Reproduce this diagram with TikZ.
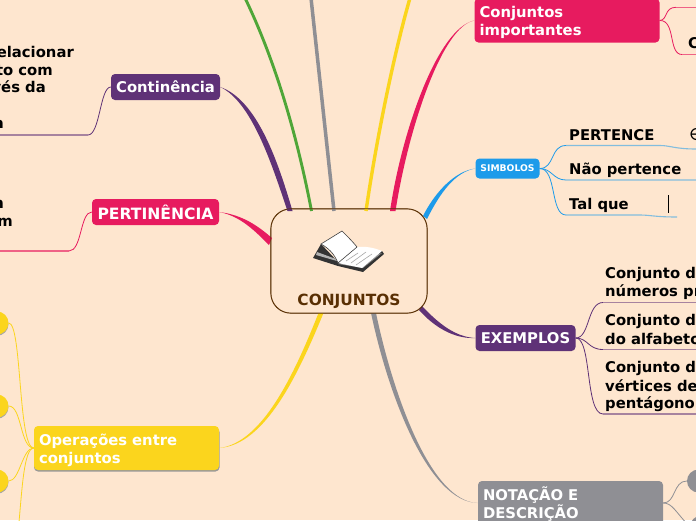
\documentclass[tikz,border=0pt]{standalone}
\usepackage{fontspec}
\setmainfont{DejaVu Sans}
\definecolor{bg}{HTML}{FEE6CF}
\definecolor{cpurple}{HTML}{5F3277}
\definecolor{cpink}{HTML}{E71B5F}
\definecolor{cyellow}{HTML}{FBD51D}
\definecolor{cgreen}{HTML}{4FA638}
\definecolor{cgray}{HTML}{8F8F94}
\definecolor{cblue}{HTML}{1D9BEA}
\definecolor{cbrown}{HTML}{592F03}
\newcommand{\bigbold}{\bfseries\fontsize{14.8}{18}\selectfont}
\newcommand{\firstline}{\rule{0pt}{15.5pt}}
\tikzset{
 mainbox/.style={rounded corners=4pt,inner sep=0pt,text=white,font=\bigbold,align=center},
 widebox/.style={mainbox,minimum width=185pt,minimum height=44pt,text width=175pt,align=left},
 leaf/.style={anchor=base west,inner sep=0pt,font=\bigbold,text=black},
 leafr/.style={anchor=base east,inner sep=0pt,font=\bigbold,text=black},
 thinline/.style={line width=.8pt},
 paleline/.style={line width=1.1pt},
 roundnode/.style={circle,inner sep=0pt,minimum size=23pt},
}
\begin{document}
\begin{tikzpicture}[x=1pt,y=-1pt]
\useasboundingbox (0,0) rectangle (696,520);
\clip (0,0) rectangle (696,520);
\fill[bg] (0,0) rectangle (696,520);
% main topics
\node[mainbox,fill=cpurple,minimum width=109pt,minimum height=26pt] (cont) at (165.5,87) {Continência};
\node[mainbox,fill=cpink,minimum width=127pt,minimum height=26pt,font=\bfseries\fontsize{15.6}{18}\selectfont] (pert) at (155.5,212) {PERTINÊNCIA};
\node[widebox,fill=cpink] (imp) at (567,20.5) {\firstline Conjuntos\\importantes};
\node[mainbox,fill=cblue,minimum width=64pt,minimum height=20pt,font=\bfseries\fontsize{9.2}{10}\selectfont] (simb) at (507.5,168.5) {SIMBOLOS};
\node[mainbox,fill=cpurple,minimum width=100pt,minimum height=26pt] (ex) at (525.5,338) {EXEMPLOS};
\node[widebox,fill=cgray] (nota) at (570.5,503) {\firstline NOTAÇÃO E\\DESCRIÇÃO};
\fill[black!40,rounded corners=4pt] (34,428) rectangle (219.5,471.5);
\node[widebox,fill=cyellow] (op) at (126.5,448) {\firstline Operações entre\\conjuntos};
% central topic
\node[draw=cbrown,line width=.6pt,fill=bg,rounded corners=20pt,minimum width=156pt,minimum height=104pt,inner sep=0pt] (center) at (349,261) {};
% free ends
\coordinate (gtop) at (311,-2);
\coordinate (gntop) at (245,-2);
\coordinate (ytop) at (410,-2);
% connectors from centre
\fill[cpurple] (292.5,211) .. controls (279,165) and (258,100) .. (cont.east) .. controls (252,102) and (272,165) .. (287.5,211) -- cycle;
\draw[cgreen,line width=2.9pt] (311.5,211) .. controls (297,135) and (275,60) .. (gntop);
\draw[cgray,line width=3.5pt] (334,211) -- (gtop);
\draw[cyellow,line width=3.4pt] (366,211) .. controls (377,135) and (395,50) .. (ytop);
\fill[cpink] (272,238) .. controls (258,226) and (243,215) .. (pert.east) .. controls (240,216) and (254,230) .. (269,245) -- cycle;
\fill[cpink] (395.5,211) .. controls (408,130) and (442,26) .. (imp.west) .. controls (438,28) and (402,130) .. (390,211) -- cycle;
\fill[cblue] (427,219) .. controls (440,193) and (455,172) .. (simb.west) .. controls (455,171) and (435,192) .. (423,216) -- cycle;
\fill[cpurple] (422,306) .. controls (438,323) and (455,337) .. (ex.west) .. controls (455,339) and (435,328) .. (419,310) -- cycle;
\fill[cgray] (376,313) .. controls (392,390) and (430,502) .. (nota.west) .. controls (429,502) and (389,398) .. (371,313) -- cycle;
\fill[cyellow] (323.5,313) .. controls (298,375) and (265,445) .. (op.east) .. controls (262,443) and (294,375) .. (318.5,313) -- cycle;
\draw[cbrown,line width=.6pt,rounded corners=20pt] (center.south west) rectangle (center.north east);
\node[text=cbrown,font=\bfseries\fontsize{15.4}{18}\selectfont,inner sep=0pt] (ctitle) at (349,301) {CONJUNTOS};
% free ends of secondary lines
\coordinate (a1) at (88,135); \coordinate (a0) at (0,135);
\coordinate (b1) at (69,251); \coordinate (b0) at (0,251);
\coordinate (c1) at (676,7.3); \coordinate (c0) at (696,7.3);
\coordinate (d1) at (682,54.5); \coordinate (d0) at (696,54.5);
\draw[cpurple,thinline] (cont.west) .. controls (100,87) and (100,135) .. (a1);
\draw[cpurple!55!bg,paleline] (a1) -- (a0);
\draw[cpink,thinline] (pert.west) .. controls (80,212) and (82,251) .. (b1);
\draw[cpink!65!bg,paleline] (b1) -- (b0);
\draw[cpink,thinline] (imp.east) .. controls (668,20) and (664,7.3) .. (c1);
\draw[cpink!65!bg,paleline] (c1) -- (c0);
\draw[cpink,thinline] (imp.east) .. controls (676,20) and (668,54.5) .. (d1);
\draw[cpink!65!bg,paleline] (d1) -- (d0);
\draw[cblue!55!bg,paleline] (566,145.5) -- (660,145.5) .. controls (670,145.5) and (675,149) .. (696,149);
\draw[cblue,thinline] (simb.east) .. controls (555,168.5) and (550,145.5) .. (566,145.5);
\draw[cblue,thinline] (simb.east) .. controls (552,168.5) and (553,180) .. (566,180) -- (696,180);
\draw[cblue,thinline] (simb.east) .. controls (557,168.5) and (550,215) .. (566,215);
\draw[cblue!55!bg,paleline] (566,215) -- (640,215) .. controls (650,215) and (655,217) .. (677,217);
\draw[cpurple,thinline] (ex.east) .. controls (590,338) and (587,302.5) .. (603,302.5);
\draw[cpurple!55!bg,paleline] (603,302.5) -- (696,302.5);
\draw[cpurple,thinline] (ex.east) .. controls (588,338) and (588,349.5) .. (603,349.5);
\draw[cpurple!55!bg,paleline] (603,349.5) -- (696,349.5);
\draw[cpurple,thinline] (ex.east) .. controls (592,338) and (585,414) .. (603,414);
\draw[cpurple!55!bg,paleline] (603,414) -- (696,414);
% round nodes
\foreach \nn/\yy in {y1/323,y2/406,y3/481}{
 \fill[black!35] (-3,\yy+1.2) circle (11.5pt);
 \node[roundnode,fill=cyellow] (\nn) at (-3,\yy) {};
}
\node[roundnode,fill=cgray] (g1) at (698.5,481) {};
\node[roundnode,fill=cgray] (g2) at (701.5,527) {};
\coordinate (ybot) at (19,522);
\draw[cgray,thinline] (nota.east) .. controls (676,503) and (673,481) .. (g1.west);
\draw[cgray,thinline] (nota.east) .. controls (672,503) and (675,511) .. (g2.west);
\draw[cyellow,thinline] (op.west) .. controls (18,448) and (22,323) .. (y1.east);
\draw[cyellow,thinline] (op.west) .. controls (20,448) and (22,406) .. (y2.east);
\draw[cyellow,thinline] (op.west) .. controls (22,448) and (20,481) .. (y3.east);
\draw[cyellow,thinline] (op.west) .. controls (24,448) and (22,490) .. (ybot);
% book
\fill[black!80] (321,244) -- (313,258) -- (338,266) -- (363,272) -- (384,254) -- (382,251) -- (338,262) -- cycle;
\fill[black!45] (338,264) -- (382,253) -- (363,268) -- cycle;
\fill[black!30] (317,252) -- (336,259) -- (337,261) -- (316,255) -- cycle;
\fill[white] (338,263) -- (357,247) .. controls (366,246) and (375,248) .. (382,251) -- (362,268) -- cycle;
\draw[black!35,line width=.6pt] (346,261) -- (358,253) (351,263) -- (366,252) (356,265) -- (372,254);
\draw[black!75,line width=.6pt,fill=white] (321,244) -- (342,231) .. controls (349,238) and (353,242) .. (357,247) -- (338,263) .. controls (334,253) and (328,248) .. (321,244) -- cycle;
% leaf texts
\node[leafr] (l1) at (74,57) {elacionar};
\node[leafr] (l2) at (53,75) {to com};
\node[leafr] (l3) at (46,92.7) {vés da};
\node[leafr] (l4) at (4,128) {a};
\node[leafr] (l5) at (4,208) {n};
\node[leafr] (l6) at (13,226.7) {m};
\node[leaf] (s1) at (569,140) {PERTENCE};
\node[leaf] (s2) at (569,174) {Não pertence};
\node[leaf] (s3) at (569,209) {Tal que};
\node[leaf,font=\fontsize{17}{17}\selectfont] (s4) at (689,140) {∈};
\draw[black,line width=1pt] (668,195) -- (668,213);
\node[leaf] (e1) at (605,278) {Conjunto d};
\node[leaf] (e2) at (605,296.7) {números pr};
\node[leaf] (e3) at (605,325.7) {Conjunto d};
\node[leaf] (e4) at (605,344) {do alfabeto};
\node[leaf] (e5) at (605,372.7) {Conjunto d};
\node[leaf] (e6) at (605,391) {vértices de};
\node[leaf] (e7) at (605,408.5) {pentágono};
\node[leaf] (i1) at (688,48) {C};
\end{tikzpicture}
\end{document}
